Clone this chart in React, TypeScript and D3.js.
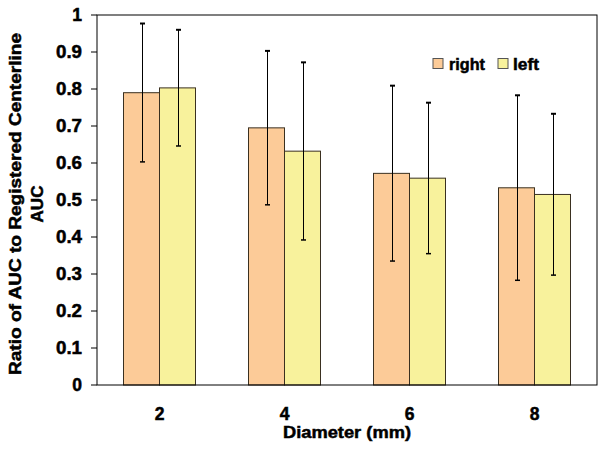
import React from "react";
import * as d3 from "d3";

const categories = ["2", "4", "6", "8"];
const seriesNames = ["right", "left"];
const rightValues = [0.79, 0.695, 0.572, 0.533];
const leftValues = [0.803, 0.632, 0.559, 0.515];
const rightErr = [0.187, 0.208, 0.237, 0.25];
const leftErr = [0.157, 0.24, 0.204, 0.218];
const yTicks = [0, 0.1, 0.2, 0.3, 0.4, 0.5, 0.6, 0.7, 0.8, 0.9, 1];
const colors: Record<string, string> = { right: "#FCCB98", left: "#F8F29C" };

const W = 604, H = 451;
const left = 97, right = 597, top = 15, bottom = 385;
const FONT = "'Liberation Sans', Arial, sans-serif";
const heavy = { stroke: "#000", strokeWidth: 0.5, fill: "#000" };

export default function App() {
  const x0 = d3.scaleBand<string>().domain(categories).range([left, right]).paddingInner(0.424).paddingOuter(0.212);
  const x1 = d3.scaleBand<string>().domain(seriesNames).range([0, x0.bandwidth()]);
  const y = d3.scaleLinear().domain([0, 1]).range([bottom, top]);

  const data = categories.map((c, i) => ({
    c,
    vals: [
      { s: "right", v: rightValues[i], e: rightErr[i] },
      { s: "left", v: leftValues[i], e: leftErr[i] },
    ],
  }));

  return (
    <svg width={W} height={H} style={{ position: "absolute", left: 0, top: 0, background: "#fff" }} fontFamily={FONT}>
      <rect x={0} y={0} width={W} height={H} fill="#fff" />
      {data.map((d) =>
        d.vals.map((b) => {
          const bx = (x0(d.c) as number) + (x1(b.s) as number);
          return (
            <rect key={d.c + b.s} x={bx} y={y(b.v)} width={x1.bandwidth()} height={y(0) - y(b.v)}
              fill={colors[b.s]} stroke="#3a3020" strokeWidth={1} />
          );
        })
      )}
      {data.map((d) =>
        d.vals.map((b) => {
          const cx = Math.round((x0(d.c) as number) + (x1(b.s) as number) + x1.bandwidth() / 2) + 0.5;
          const y1 = y(b.v + b.e), y2 = y(b.v - b.e);
          return (
            <g key={"e" + d.c + b.s} stroke="#000" strokeWidth={1}>
              <line x1={cx} x2={cx} y1={y1} y2={y2} />
              <line x1={cx - 2.5} x2={cx + 2.5} y1={y1} y2={y1} strokeWidth={2} />
              <line x1={cx - 2.5} x2={cx + 2.5} y1={y2} y2={y2} strokeWidth={1.5} />
            </g>
          );
        })
      )}
      <rect x={left} y={top} width={right - left} height={bottom - top} fill="none" stroke="#000" strokeWidth={1} />
      {yTicks.map((t) => (
        <g key={t}>
          <line x1={left - 6} x2={left} y1={y(t)} y2={y(t)} stroke="#000" />
          <text x={82} y={y(t)} dy="0.36em" textAnchor="end" fontSize={17.5} fontWeight="bold" {...heavy}
            textLength={t === 0 || t === 1 ? undefined : 26} lengthAdjust="spacingAndGlyphs">
            {d3.format("")(t)}
          </text>
        </g>
      ))}
      {categories.map((c) => (
        <text key={c} x={(x0(c) as number) + x0.bandwidth() / 2} y={420} textAnchor="middle" fontSize={17.5} fontWeight="bold" {...heavy}>
          {c}
        </text>
      ))}
      <text x={(left + right) / 2} y={437.5} textAnchor="middle" fontSize={17} fontWeight="bold" {...heavy}
        textLength={128} lengthAdjust="spacingAndGlyphs">
        Diameter (mm)
      </text>
      <g transform="translate(21,204) rotate(-90)">
        <text x={0} y={0} textAnchor="middle" fontSize={17} fontWeight="bold" {...heavy} textLength={342} lengthAdjust="spacingAndGlyphs">
          Ratio of AUC to Registered Centerline
        </text>
        <text x={0} y={22} textAnchor="middle" fontSize={17} fontWeight="bold" {...heavy}>
          AUC
        </text>
      </g>
      <rect x={433} y={58.5} width={10} height={10} fill={colors.right} stroke="#555" />
      <text x={449} y={70} fontSize={16} fontWeight="bold" {...heavy} textLength={36} lengthAdjust="spacingAndGlyphs">right</text>
      <rect x={498} y={58.5} width={10} height={10} fill={colors.left} stroke="#555" />
      <text x={513} y={70} fontSize={16} fontWeight="bold" {...heavy} textLength={26} lengthAdjust="spacingAndGlyphs">left</text>
    </svg>
  );
}
